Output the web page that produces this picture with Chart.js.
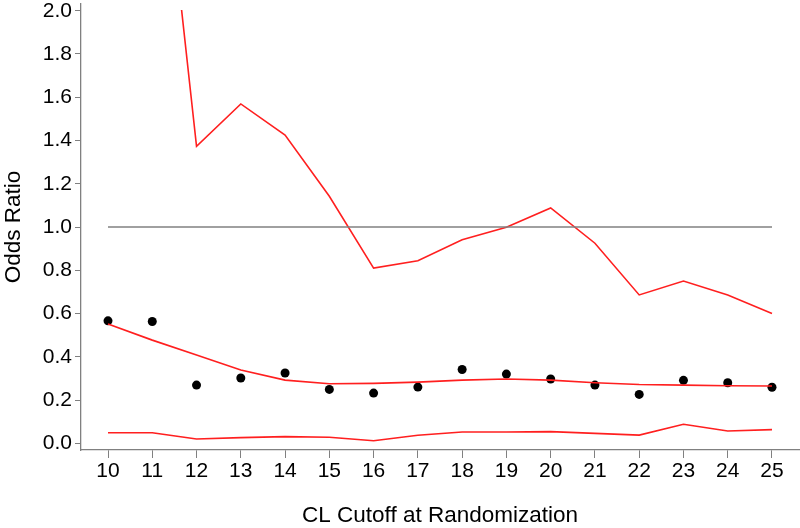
<!DOCTYPE html>
<html>
<head>
<meta charset="utf-8">
<script src="https://cdn.jsdelivr.net/npm/chart.js@4.4.0/dist/chart.umd.min.js"></script>
<style>
  html, body { margin: 0; padding: 0; background: #ffffff; }
  #wrap { width: 800px; height: 528px; position: relative; }
</style>
</head>
<body>
<div id="wrap"><canvas id="c" width="800" height="528"></canvas></div>
<script>
// ---- data ----
const categories = [10, 11, 12, 13, 14, 15, 16, 17, 18, 19, 20, 21, 22, 23, 24, 25];
const oddsRatio  = [0.566, 0.563, 0.269, 0.302, 0.325, 0.249, 0.232, 0.260, 0.341, 0.320, 0.297, 0.269, 0.226, 0.291, 0.280, 0.259];
const fitted     = [0.552, 0.477, 0.408, 0.339, 0.292, 0.275, 0.277, 0.283, 0.292, 0.297, 0.292, 0.280, 0.272, 0.269, 0.266, 0.265];
const lowerCI    = [0.049, 0.049, 0.020, 0.026, 0.031, 0.028, 0.012, 0.037, 0.052, 0.052, 0.054, 0.046, 0.038, 0.088, 0.057, 0.063];
const upperCI    = [null, 3.24, 1.373, 1.569, 1.425, 1.142, 0.810, 0.844, 0.941, 0.999, 1.088, 0.925, 0.686, 0.750, 0.686, 0.600];
const refValue   = 1.0;
const yTicks     = [0.0, 0.2, 0.4, 0.6, 0.8, 1.0, 1.2, 1.4, 1.6, 1.8, 2.0];
const yClipMax   = 2.0;

const pts = arr => categories.map((c, i) => ({ x: c, y: arr[i] }));
const refLine = [
  { x: categories[0], y: refValue },
  { x: categories[categories.length - 1], y: refValue }
];

const RED = '#ff1f1f';
const GRAY = '#808080';
const FONT = "'Liberation Sans', Arial, sans-serif";

// clip the upper CI line at y = 2.0 (as in the reference)
const clipPlugin = {
  id: 'clipUpper',
  beforeDatasetDraw(chart, args) {
    const ds = chart.data.datasets[args.index];
    if (!ds.clipAtMax) return;
    const ctx = chart.ctx;
    const a = chart.chartArea;
    const yTop = chart.scales.y.getPixelForValue(yClipMax);
    ctx.save();
    ctx.beginPath();
    ctx.rect(a.left, yTop - 0.75, a.right - a.left, a.bottom - yTop + 0.75);
    ctx.clip();
  },
  afterDatasetDraw(chart, args) {
    const ds = chart.data.datasets[args.index];
    if (!ds.clipAtMax) return;
    chart.ctx.restore();
  }
};

new Chart(document.getElementById('c'), {
  type: 'scatter',
  data: {
    datasets: [
      {
        label: 'Reference',
        data: refLine,
        showLine: true,
        borderColor: GRAY,
        borderWidth: 1.3,
        pointRadius: 0,
        fill: false
      },
      {
        label: 'Upper CI',
        data: pts(upperCI),
        showLine: true,
        borderColor: RED,
        borderWidth: 1.6,
        pointRadius: 0,
        fill: false,
        clipAtMax: true
      },
      {
        label: 'Fitted',
        data: pts(fitted),
        showLine: true,
        borderColor: RED,
        borderWidth: 1.6,
        pointRadius: 0,
        fill: false
      },
      {
        label: 'Lower CI',
        data: pts(lowerCI),
        showLine: true,
        borderColor: RED,
        borderWidth: 1.6,
        pointRadius: 0,
        fill: false
      },
      {
        label: 'Odds Ratio',
        data: pts(oddsRatio),
        showLine: false,
        backgroundColor: '#000000',
        borderColor: '#000000',
        borderWidth: 0,
        pointRadius: 4.5
      }
    ]
  },
  options: {
    responsive: false,
    animation: false,
    devicePixelRatio: 1,
    layout: { autoPadding: false, padding: { top: 4, right: 1, bottom: 0, left: 0 } },
    plugins: {
      legend: { display: false },
      tooltip: { enabled: false }
    },
    scales: {
      x: {
        type: 'linear',
        min: 9.39,
        max: 25.61,
        afterBuildTicks(scale) { scale.ticks = categories.map(v => ({ value: v })); },
        afterFit(scale) {
          scale.height = 78;
          scale.paddingLeft = 0; scale.paddingRight = 0;
        },
        grid: {
          drawOnChartArea: false,
          drawTicks: true,
          tickLength: 8,
          color: GRAY,
          lineWidth: 1
        },
        border: { display: true, color: GRAY, width: 1.3 },
        ticks: {
          color: '#000000',
          font: { family: FONT, size: 21 },
          padding: 1,
          maxRotation: 0,
          autoSkip: false,
          callback: v => String(v)
        },
        title: {
          display: true,
          text: 'CL Cutoff at Randomization',
          color: '#000000',
          font: { family: FONT, size: 22.5, lineHeight: 1.05 },
          padding: { top: 0, bottom: 0 }
        }
      },
      y: {
        type: 'linear',
        min: -0.031,
        max: 2.031,
        afterBuildTicks(scale) { scale.ticks = yTicks.map(v => ({ value: v })); },
        afterFit(scale) {
          scale.width = 81;
          scale.paddingTop = 0; scale.paddingBottom = 0;
        },
        grid: {
          drawOnChartArea: false,
          drawTicks: true,
          tickLength: 6,
          color: GRAY,
          lineWidth: 1
        },
        border: { display: true, color: GRAY, width: 1.3 },
        ticks: {
          color: '#000000',
          font: { family: FONT, size: 21 },
          padding: 3,
          autoSkip: false,
          callback: v => Number(v).toFixed(1)
        },
        title: {
          display: true,
          text: 'Odds Ratio',
          color: '#000000',
          font: { family: FONT, size: 22.5, lineHeight: 1.2 },
          padding: { top: 0, bottom: 0 }
        }
      }
    }
  },
  plugins: [clipPlugin]
});
</script>
</body>
</html>
